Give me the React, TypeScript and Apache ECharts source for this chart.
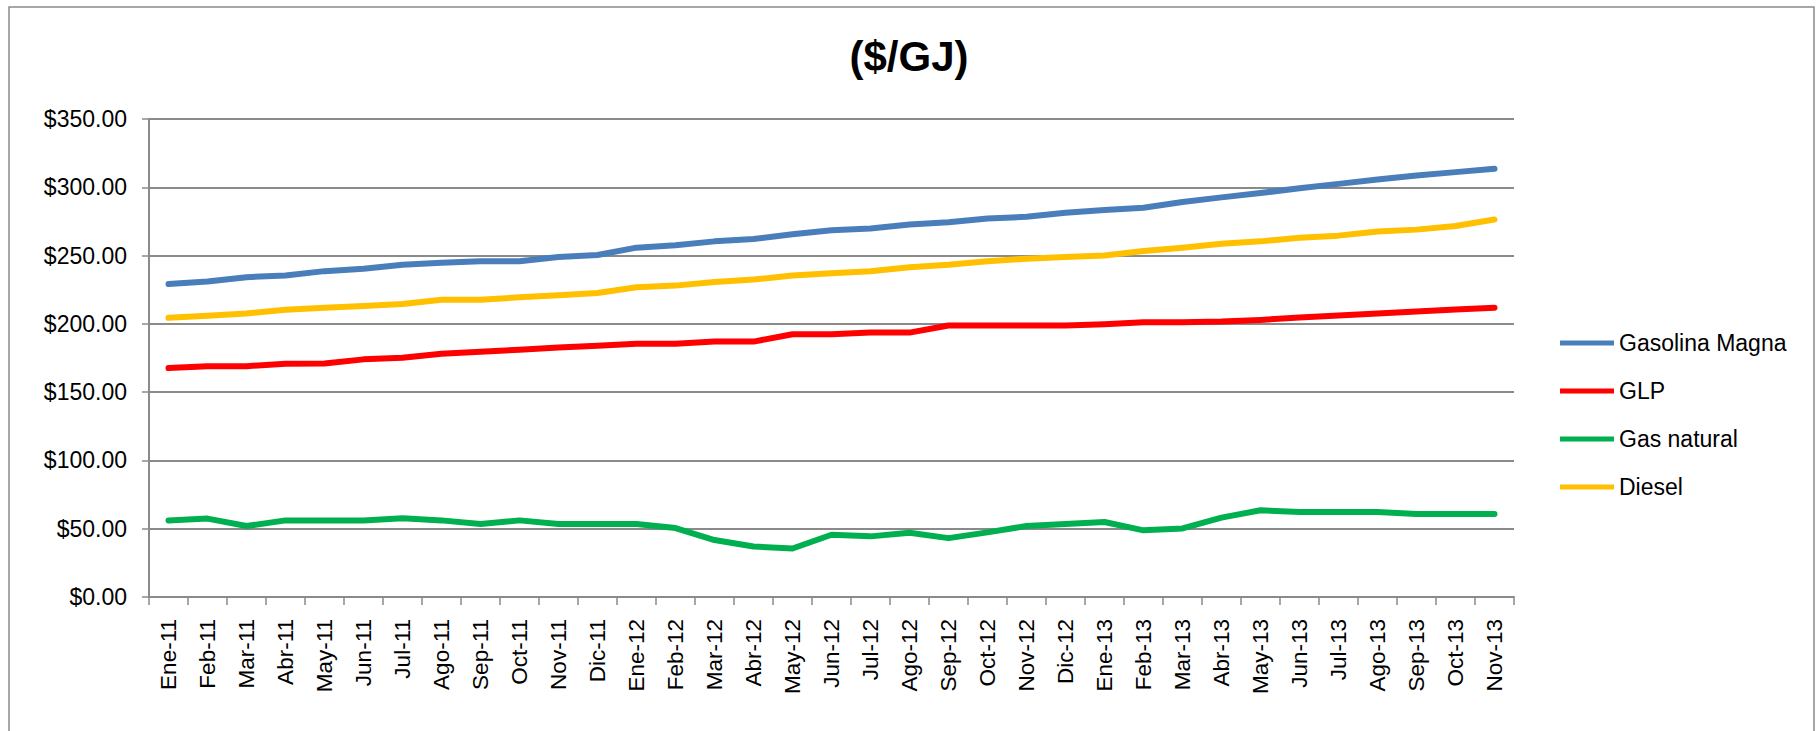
import React, { useEffect, useRef } from "react";
import * as echarts from "echarts";

const categories = [
  "Ene-11", "Feb-11", "Mar-11", "Abr-11", "May-11", "Jun-11", "Jul-11", "Ago-11", "Sep-11", "Oct-11", "Nov-11", "Dic-11",
  "Ene-12", "Feb-12", "Mar-12", "Abr-12", "May-12", "Jun-12", "Jul-12", "Ago-12", "Sep-12", "Oct-12", "Nov-12", "Dic-12",
  "Ene-13", "Feb-13", "Mar-13", "Abr-13", "May-13", "Jun-13", "Jul-13", "Ago-13", "Sep-13", "Oct-13", "Nov-13",
];

const gasolinaMagna = [
  229.2, 231.0, 234.2, 235.4, 238.6, 240.3, 243.2, 244.7, 245.9, 245.9, 248.9, 250.4,
  255.8, 257.5, 260.4, 262.2, 265.6, 268.6, 269.8, 272.7, 274.4, 277.1, 278.4, 281.3,
  283.3, 285.0, 289.2, 292.6, 295.8, 299.3, 302.5, 305.7, 308.6, 311.1, 313.5,
];

const glp = [
  167.6, 169.0, 169.0, 170.8, 171.0, 174.0, 175.2, 178.1, 179.6, 181.1, 182.6, 184.0,
  185.5, 185.5, 187.0, 187.0, 192.4, 192.4, 193.6, 193.6, 198.8, 198.8, 198.8, 198.8,
  199.8, 201.2, 201.2, 201.7, 202.9, 204.7, 206.1, 207.6, 209.1, 210.6, 211.8,
];

const gasNatural = [
  56.1, 57.4, 52.0, 56.1, 56.1, 56.1, 57.6, 56.1, 53.4, 56.1, 53.4, 53.4,
  53.4, 50.5, 41.7, 37.0, 35.5, 45.6, 44.4, 47.1, 43.1, 47.3, 52.0, 53.4,
  54.9, 48.8, 50.2, 58.1, 63.5, 62.3, 62.3, 62.3, 60.8, 60.8, 60.8,
];

const diesel = [
  204.4, 205.9, 207.6, 210.3, 211.8, 213.0, 214.5, 217.7, 217.7, 219.4, 220.9, 222.6,
  226.8, 228.0, 230.7, 232.4, 235.4, 237.1, 238.6, 241.5, 243.2, 245.9, 247.7, 248.9,
  250.1, 253.3, 255.8, 258.7, 260.4, 263.1, 264.6, 267.6, 269.0, 271.7, 276.4,
];

const seriesNames = ["Gasolina Magna", "GLP", "Gas natural", "Diesel"];
const seriesColors = ["#4A7EBB", "#FF0000", "#00B050", "#FFC000"];
const seriesData = [gasolinaMagna, glp, gasNatural, diesel];

const FONT = "'Liberation Sans', Arial, sans-serif";
const GREY = "#8a8a8a";

export default function App() {
  const ref = useRef<HTMLDivElement>(null);

  useEffect(() => {
    if (!ref.current) return;
    const chart = echarts.init(ref.current, null, { renderer: "svg" });
    chart.setOption({
      animation: false,
      backgroundColor: "#ffffff",
      title: {
        text: "($/GJ)",
        left: "center",
        top: 30,
        textStyle: { fontFamily: FONT, fontSize: 42, fontWeight: "bold", color: "#000" },
      },
      graphic: [
        {
          type: "rect",
          shape: { x: 9, y: 7, width: 1805, height: 760 },
          style: { fill: "none", stroke: GREY, lineWidth: 1.5 },
          silent: true,
        },
      ],
      legend: {
        orient: "vertical",
        left: 1555,
        top: 325,
        icon: "rect",
        itemWidth: 54,
        itemHeight: 5,
        itemGap: 22,
        textStyle: { fontFamily: FONT, fontSize: 23, color: "#000", lineHeight: 26 },
        data: seriesNames,
      },
      grid: {
        left: 149,
        right: 304,
        top: 119,
        bottom: 134,
        containLabel: false,
        outerBoundsMode: "none",
      },
      xAxis: {
        type: "category",
        data: categories,
        boundaryGap: true,
        axisLine: { show: true, lineStyle: { color: GREY, width: 2 } },
        axisTick: { show: true, length: 8, lineStyle: { color: GREY, width: 1.5 } },
        axisLabel: {
          interval: 0,
          rotate: 90,
          margin: 22,
          fontFamily: FONT,
          fontSize: 22.5,
          color: "#000",
        },
        splitLine: { show: false },
      },
      yAxis: {
        type: "value",
        min: 0,
        max: 350,
        interval: 50,
        axisLine: { show: true, lineStyle: { color: GREY, width: 2 } },
        axisTick: { show: true, length: 7, lineStyle: { color: GREY, width: 1.5 } },
        axisLabel: {
          margin: 22,
          fontFamily: FONT,
          fontSize: 23,
          color: "#000",
          formatter: (v: number) => "$" + v.toFixed(2),
        },
        splitLine: { show: true, lineStyle: { color: GREY, width: 2 } },
      },
      series: seriesNames.map((name, i) => ({
        name,
        type: "line",
        data: seriesData[i],
        symbol: "none",
        showSymbol: false,
        color: seriesColors[i],
        itemStyle: { color: seriesColors[i] },
        lineStyle: { color: seriesColors[i], width: 6, cap: "round", join: "round" },
        z: 10 - i,
      })),
    });
    return () => chart.dispose();
  }, []);

  return (
    <div
      ref={ref}
      style={{ position: "absolute", left: 0, top: 0, width: 1818, height: 731 }}
    />
  );
}
